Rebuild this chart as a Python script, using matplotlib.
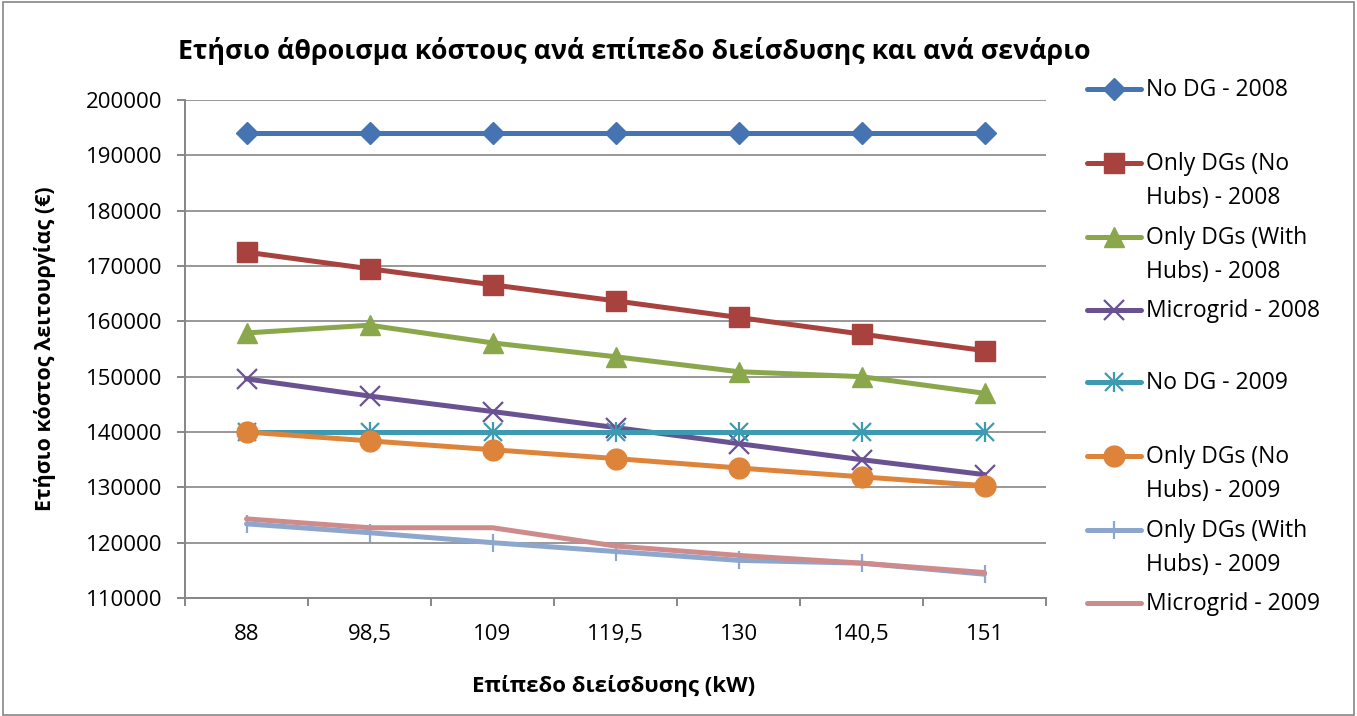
import numpy as np
import matplotlib.pyplot as plt
from matplotlib.lines import Line2D
from matplotlib.patches import Rectangle

plt.rcParams['font.family'] = ['Open Sans', 'DejaVu Sans']

levels = ['88', '98,5', '109', '119,5', '130', '140,5', '151']

nodg_2008 = [194000, 194000, 194000, 194000, 194000, 194000, 194000]
dg_nohubs_2008 = [172500, 169500, 166600, 163700, 160700, 157700, 154700]
dg_hubs_2008 = [157900, 159300, 156100, 153600, 150900, 150000, 147000]
micro_2008 = [149600, 146500, 143700, 140800, 137900, 135000, 132300]
nodg_2009 = [140000, 140000, 140000, 140000, 140000, 140000, 140000]
dg_nohubs_2009 = [140000, 138400, 136800, 135200, 133500, 131900, 130300]
dg_hubs_2009 = [123400, 121800, 120000, 118400, 116800, 116300, 114300]
micro_2009 = [124300, 122700, 122700, 119400, 117700, 116300, 114600]

series = [
    ('No DG - 2008', nodg_2008, '#4673B2', 'D', 11),
    ('Only DGs (No\nHubs) - 2008', dg_nohubs_2008, '#A8423F', 's', 14),
    ('Only DGs (With\nHubs) - 2008', dg_hubs_2008, '#8AA84B', '^', 15),
    ('Microgrid - 2008', micro_2008, '#6A5192', 'x', 14),
    ('No DG - 2009', nodg_2009, '#3D9AB1', 'x', 13),
    ('Only DGs (No\nHubs) - 2009', dg_nohubs_2009, '#DD843A', 'o', 15),
    ('Only DGs (With\nHubs) - 2009', dg_hubs_2009, '#8DA6CE', '|', 13),
    ('Microgrid - 2009', micro_2009, '#CE8B8B', None, 0),
]

fig = plt.figure(figsize=(13.57, 7.16), dpi=100)
ax = fig.add_axes([185 / 1357, 1 - 598 / 716, (1046 - 185) / 1357, (598 - 100) / 716])

x = np.arange(len(levels))
for name, vals, col, mk, ms in series:
    mew = 1.6 if mk in ('x', '|') else 1
    ax.plot(x, vals, color=col, lw=3.6, marker=mk, ms=ms, mec=col, mfc=col, mew=mew,
            solid_capstyle='round', solid_joinstyle='round')
    if name == 'No DG - 2009':
        # asterisk = x + vertical bar
        ax.plot(x, vals, ls='none', marker='|', ms=ms + 2, mec=col, mew=mew)

ax.set_xlim(-0.5, len(levels) - 0.5)
ax.set_ylim(110000, 200000)
ax.set_yticks(np.arange(110000, 200001, 10000))
ax.set_xticks(x)
ax.set_xticklabels(levels)
ax.set_xticks(np.arange(-0.5, len(levels)), minor=True)
ax.tick_params(axis='x', which='major', length=0, pad=19, labelsize=16)
ax.tick_params(axis='x', which='minor', length=6, width=1.4, color='#868686', direction='out')
ax.tick_params(axis='y', length=6, width=1.4, color='#868686', pad=10, labelsize=16)
ax.grid(axis='y', color='#868686', lw=1.2)
ax.set_axisbelow(True)
for s in ('top', 'right'):
    ax.spines[s].set_visible(False)
for s in ('left', 'bottom'):
    ax.spines[s].set_color('#868686')
    ax.spines[s].set_linewidth(1.4)

fig.text(634 / 1357, 1 - 51 / 716, 'Ετήσιο άθροισμα κόστους ανά επίπεδο διείσδυσης και ανά σενάριο',
         ha='center', va='center', fontsize=19.3, fontweight='bold')
fig.text(45 / 1357, 1 - 349 / 716, 'Ετήσιο κόστος λειτουργίας (€)', rotation=90,
         ha='center', va='center', fontsize=15.5, fontweight='bold')
fig.text(614 / 1357, 1 - 686 / 716, 'Επίπεδο διείσδυσης (kW)',
         ha='center', va='center', fontsize=16, fontweight='bold')

# legend drawn by hand to keep the Excel layout
leg_y = [89, 163, 237, 310, 382, 456, 530, 603]
for (name, vals, col, mk, ms), yy in zip(series, leg_y):
    fy = 1 - yy / 716
    fig.add_artist(Line2D([1087 / 1357, 1141 / 1357], [fy, fy], color=col, lw=3.6,
                          solid_capstyle='round'))
    if mk is not None:
        mew = 1.6 if mk in ('x', '|') else 1
        fig.add_artist(Line2D([1114 / 1357], [fy], marker=mk, ms=ms, color=col, mew=mew))
        if name == 'No DG - 2009':
            fig.add_artist(Line2D([1114 / 1357], [fy], marker='|', ms=ms + 2, color=col, mew=mew))
    for k, line in enumerate(name.split('\n')):
        fig.text(1146 / 1357, 1 - (yy + 7 + k * 34) / 716, line, ha='left', va='baseline',
                 fontsize=16.5)

fig.add_artist(Rectangle((0.002, 0.002), 0.996, 0.995, transform=fig.transFigure,
                         fill=False, ec='#868686', lw=1.2))

fig.savefig('out.png', dpi=100)
